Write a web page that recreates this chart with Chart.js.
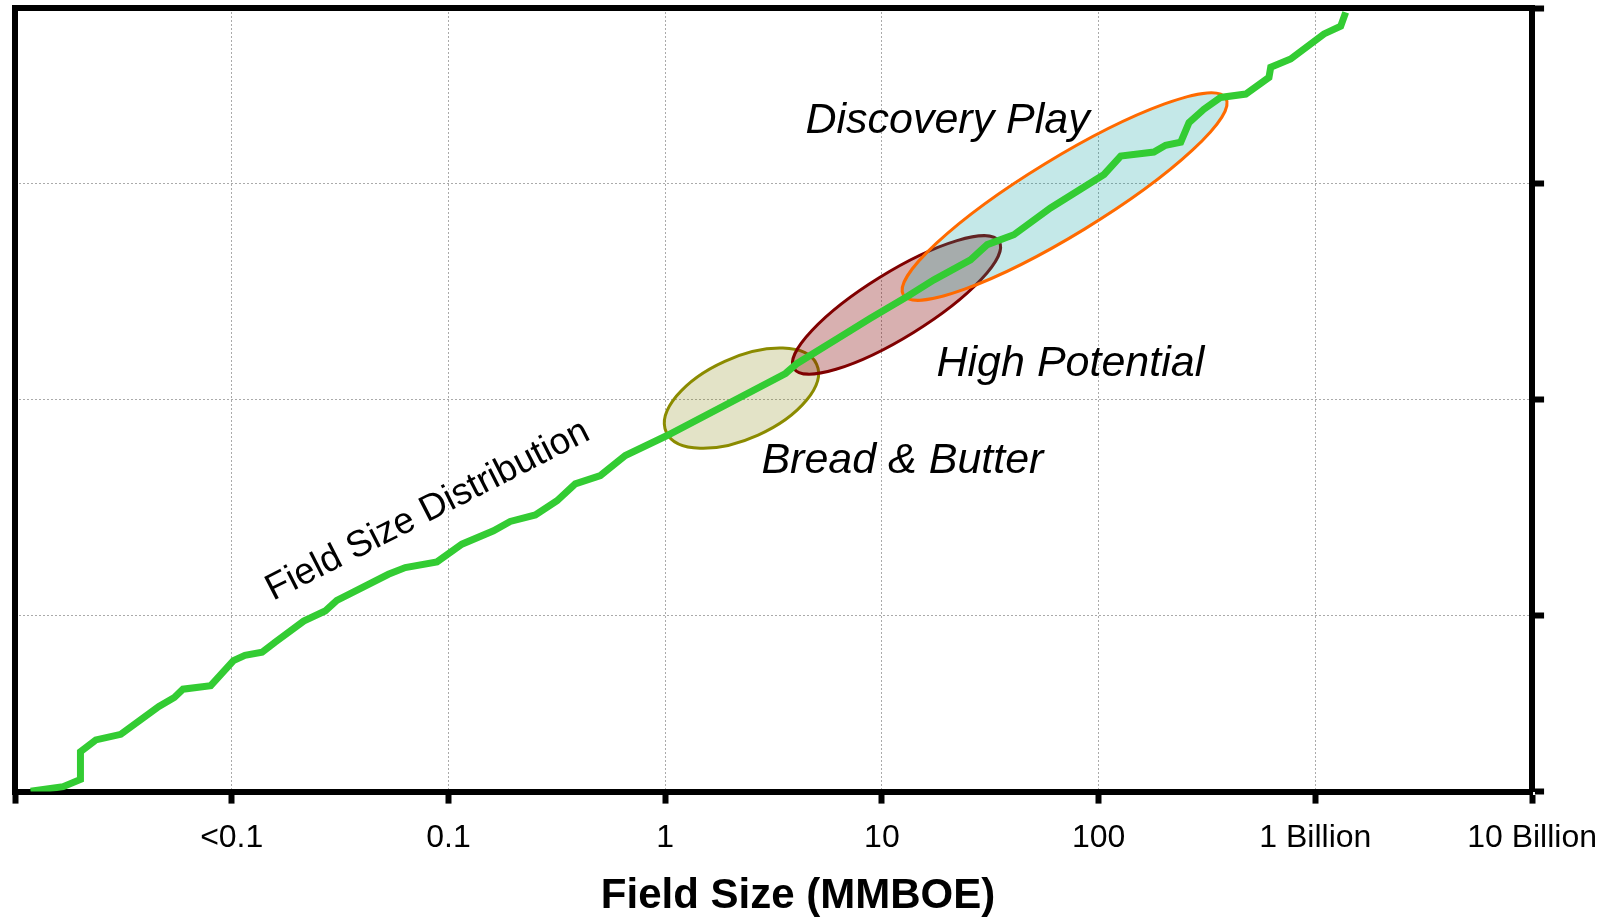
<!DOCTYPE html>
<html>
<head>
<meta charset="utf-8">
<title>Field Size Distribution</title>
<script src="https://cdn.jsdelivr.net/npm/chart.js@4.4.1/dist/chart.umd.min.js"></script>
<style>
  html, body { margin: 0; padding: 0; background: #fff; }
  #wrap { width: 1608px; height: 920px; }
</style>
</head>
<body>
<div id="wrap"><canvas id="fieldChart" width="1608" height="920"></canvas></div>
<script>
// x axis: one unit per decade, labelled as on the original slide
const tickLabels = ['', '<0.1', '0.1', '1', '10', '100', '1 Billion', '10 Billion'];
const axisTitle = 'Field Size (MMBOE)';
// y axis: normal scores of the 1, 10, 50, 90 and 99 % lines (probability paper)
const probTicks = [-2.326, -1.282, 0, 1.282, 2.326];

// cumulative field size curve (decade units, normal score)
const fieldSizeX = [0.072, 0.222, 0.302, 0.302, 0.373, 0.488, 0.664, 0.735, 0.775, 0.903,
  1.008, 1.061, 1.140, 1.200, 1.332, 1.431, 1.485, 1.547, 1.723, 1.801,
  1.947, 2.062, 2.208, 2.285, 2.401, 2.501, 2.585, 2.701, 2.816, 3.009,
  3.555, 3.609, 3.809, 3.947, 4.117, 4.240, 4.409, 4.486, 4.609, 4.778,
  5.025, 5.102, 5.255, 5.309, 5.379, 5.417, 5.486, 5.563, 5.679, 5.786,
  5.794, 5.886, 6.040, 6.117, 6.140];
const fieldSizeZ = [-2.323, -2.297, -2.254, -2.089, -2.019, -1.986, -1.821, -1.767, -1.718, -1.697,
  -1.548, -1.517, -1.499, -1.439, -1.314, -1.254, -1.191, -1.151, -1.036, -0.996,
  -0.962, -0.857, -0.778, -0.722, -0.684, -0.599, -0.499, -0.450, -0.331, -0.212,
  0.156, 0.216, 0.374, 0.484, 0.613, 0.712, 0.831, 0.921, 0.980, 1.139,
  1.338, 1.447, 1.471, 1.511, 1.530, 1.646, 1.725, 1.795, 1.815, 1.914,
  1.974, 2.023, 2.172, 2.218, 2.300];

// play types: ends of the long axis of each ellipse + half width, in axis units
const playNames = ['Bread & Butter', 'High Potential', 'Discovery Play'];
const playFromX = [3.005, 3.594, 4.099];
const playFromZ = [-0.192, 0.186, 0.622];
const playToX = [3.699, 4.541, 5.587];
const playToZ = [0.211, 0.940, 1.791];
const playHalfWidth = [0.187, 0.149, 0.176];
const playLabelX = [3.444, 4.252, 3.647];
const playLabelZ = [-0.432, 0.140, 1.582];

const curveLabel = 'Field Size Distribution';
const curveLabelX = 1.191;
const curveLabelZ = -1.195;

const FONT = '"Liberation Sans", Arial, Helvetica, sans-serif';

const playAreas = {
    id: 'playAreas',
    beforeDatasetsDraw(chart) {
        const { ctx, scales: { x, y } } = chart;
        const fills = ['rgba(128,128,0,0.22)', 'rgba(128,0,0,0.31)', 'rgba(0,154,154,0.23)'];
        const lines = ['#8b8b00', '#800000', '#ff6a00'];
        const unit = x.getPixelForValue(1) - x.getPixelForValue(0);

        ctx.save();
        playNames.forEach((name, i) => {
            const x1 = x.getPixelForValue(playFromX[i]);
            const y1 = y.getPixelForValue(playFromZ[i]);
            const x2 = x.getPixelForValue(playToX[i]);
            const y2 = y.getPixelForValue(playToZ[i]);
            const rx = Math.hypot(x2 - x1, y2 - y1) / 2;
            const ry = playHalfWidth[i] * unit;

            ctx.beginPath();
            ctx.ellipse((x1 + x2) / 2, (y1 + y2) / 2, rx, ry, Math.atan2(y2 - y1, x2 - x1), 0, Math.PI * 2);
            ctx.fillStyle = fills[i];
            ctx.fill();
            ctx.lineWidth = 3;
            ctx.strokeStyle = lines[i];
            ctx.stroke();
        });
        ctx.restore();
    },
    afterDatasetsDraw(chart) {
        const { ctx, scales: { x, y } } = chart;
        ctx.save();
        ctx.fillStyle = '#000';
        ctx.textAlign = 'left';
        ctx.textBaseline = 'alphabetic';

        ctx.font = 'italic 43px ' + FONT;
        playNames.forEach((name, i) => {
            ctx.fillText(name, x.getPixelForValue(playLabelX[i]), y.getPixelForValue(playLabelZ[i]));
        });

        ctx.translate(x.getPixelForValue(curveLabelX), y.getPixelForValue(curveLabelZ));
        ctx.rotate(-27 * Math.PI / 180);
        ctx.font = '37px ' + FONT;
        ctx.fillText(curveLabel, 0, 0);
        ctx.restore();
    }
};

// top and left edges of the frame (bottom/right come from the axes), plus the axis title
const frame = {
    id: 'frame',
    afterDraw(chart) {
        const { ctx, chartArea: a } = chart;
        ctx.save();
        ctx.strokeStyle = '#000';
        ctx.lineWidth = 6;
        ctx.beginPath();
        ctx.moveTo(a.left - 3, a.top);
        ctx.lineTo(a.right, a.top);
        ctx.moveTo(a.left, a.top - 3);
        ctx.lineTo(a.left, a.bottom + 3);
        ctx.stroke();

        // the slide has the title a little right of the axis centre
        ctx.fillStyle = '#000';
        ctx.font = 'bold 42px ' + FONT;
        ctx.textAlign = 'center';
        ctx.textBaseline = 'middle';
        ctx.fillText(axisTitle, chart.width / 2 - 6, chart.height - 24);
        ctx.restore();
    }
};

const gridStyle = {
    color: '#aaaaaa',
    lineWidth: 1,
    tickColor: '#000',
    tickWidth: 6,
    tickLength: 12
};
const borderStyle = { color: '#000', width: 6, dash: [2, 2] };

new Chart(document.getElementById('fieldChart'), {
    type: 'line',
    data: {
        datasets: [{
            label: curveLabel,
            data: fieldSizeX.map((v, i) => ({ x: v, y: fieldSizeZ[i] })),
            borderColor: '#33cc33',
            borderWidth: 7,
            pointRadius: 0,
            tension: 0,
            fill: false
        }]
    },
    options: {
        responsive: false,
        animation: false,
        devicePixelRatio: 1,
        layout: { padding: { left: 15, top: 8, right: 9, bottom: 48 } },
        plugins: {
            legend: { display: false },
            tooltip: { enabled: false }
        },
        scales: {
            x: {
                type: 'linear',
                position: 'bottom',
                min: 0,
                max: tickLabels.length - 1,
                afterBuildTicks: scale => {
                    scale.ticks = tickLabels.map((l, i) => ({ value: i }));
                },
                // last label may run a bit into the margin, as on the slide
                afterFit: scale => {
                    scale.paddingRight = Math.max(0, scale.paddingRight - 4);
                },
                ticks: {
                    autoSkip: false,
                    maxRotation: 0,
                    padding: 15,
                    color: '#000',
                    font: { family: FONT, size: 32 },
                    callback: (v) => tickLabels[v]
                },
                grid: gridStyle,
                border: borderStyle
            },
            y: {
                type: 'linear',
                position: 'right',
                min: probTicks[0],
                max: probTicks[probTicks.length - 1],
                afterBuildTicks: scale => {
                    scale.ticks = probTicks.map(v => ({ value: v }));
                },
                ticks: { display: false },
                grid: gridStyle,
                border: borderStyle
            }
        }
    },
    plugins: [playAreas, frame]
});
</script>
</body>
</html>
